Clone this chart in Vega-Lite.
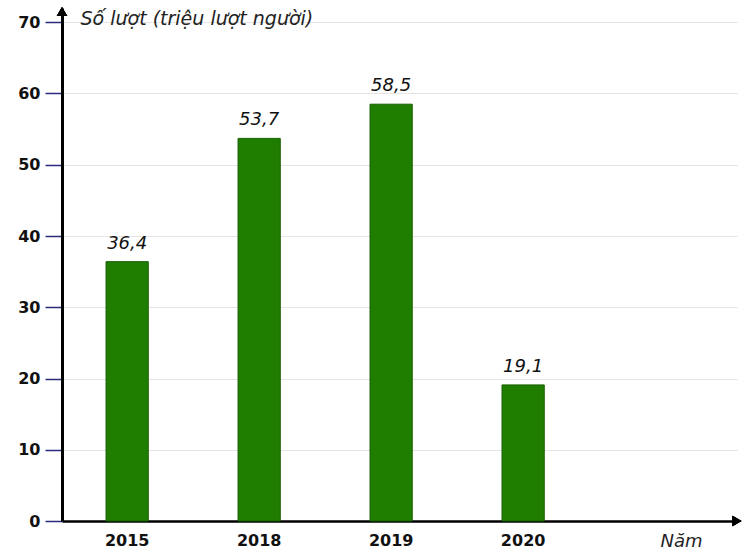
{
  "$schema": "https://vega.github.io/schema/vega-lite/v6.json",
  "autosize": {"type": "none"},
  "padding": {"left": 62, "top": 8, "right": 15, "bottom": 29},
  "width": 675,
  "height": 513,
  "background": "white",
  "config": {
    "view": {"stroke": null},
    "font": "DejaVu Sans",
    "locale": {"number": {"decimal": ",", "thousands": ".", "grouping": [3], "currency": ["", " đ"]}}
  },
  "data": {"values": [
    {"year": "2015", "value": 36.4},
    {"year": "2018", "value": 53.7},
    {"year": "2019", "value": 58.5},
    {"year": "2020", "value": 19.1}
  ]},
  "layer": [
    {
      "mark": {"type": "bar", "color": "#1f7d00", "stroke": "#176000", "strokeWidth": 1},
      "encoding": {
        "x": {
          "field": "year", "type": "ordinal",
          "scale": {"paddingInner": 0.68, "paddingOuter": 0.897, "align": 0.186},
          "axis": {
            "title": "Năm", "titleFont": "DejaVu Sans", "titleFontStyle": "italic", "titleFontWeight": "normal",
            "titleFontSize": 18, "titleColor": "#222222", "titleX": 598, "titleY": 20, "titleAlign": "left",
            "titleBaseline": "middle", "titleAnchor": null,
            "labelAngle": 0, "labelFontWeight": "bold", "labelFontSize": 16, "labelColor": "#111111",
            "labelPadding": 11, "ticks": false, "domainColor": "#000000", "domainWidth": 2.5, "grid": false
          }
        },
        "y": {
          "field": "value", "type": "quantitative",
          "scale": {"domain": [0, 72], "nice": false},
          "axis": {
            "title": "Số lượt (triệu lượt người)", "titleFont": "DejaVu Sans", "titleFontStyle": "italic",
            "titleFontWeight": "normal", "titleFontSize": 19, "titleColor": "#222222", "titleAngle": 0,
            "titleX": 18, "titleY": 10, "titleAlign": "left", "titleBaseline": "middle", "titleAnchor": null,
            "values": [0, 10, 20, 30, 40, 50, 60, 70],
            "labelFontWeight": "bold", "labelFontSize": 16, "labelColor": "#111111", "labelPadding": 5,
            "tickColor": "#2a2a7a", "tickSize": 17, "tickWidth": 1.5,
            "domainColor": "#000000", "domainWidth": 3,
            "grid": true, "gridColor": "#e4e4e4", "gridWidth": 1
          }
        }
      }
    },
    {
      "mark": {"type": "text", "dy": -9, "baseline": "bottom", "fontStyle": "italic", "fontSize": 18, "color": "#111111", "font": "DejaVu Sans"},
      "encoding": {
        "x": {"field": "year", "type": "ordinal"},
        "y": {"field": "value", "type": "quantitative"},
        "text": {"field": "value", "type": "quantitative", "format": ".1f"}
      }
    },
    {
      "mark": {"type": "point", "shape": "triangle-up", "filled": true, "color": "#000000", "size": 110, "opacity": 1},
      "encoding": {"x": {"value": 0}, "y": {"datum": 71.5}}
    },
    {
      "mark": {"type": "point", "shape": "triangle-right", "filled": true, "color": "#000000", "size": 110, "opacity": 1},
      "encoding": {"x": {"value": 675}, "y": {"datum": 0}}
    }
  ]
}
